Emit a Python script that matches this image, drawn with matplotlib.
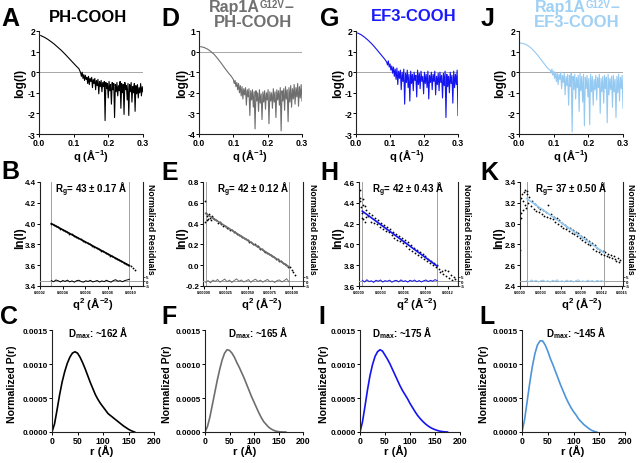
import numpy as np
import matplotlib
matplotlib.use("Agg")
import matplotlib.pyplot as plt

plt.rcParams['font.family'] = ['Liberation Sans', 'DejaVu Sans']
plt.rcParams['font.weight'] = 'bold'
plt.rcParams['axes.unicode_minus'] = False
plt.rcParams['mathtext.fontset'] = 'custom'
plt.rcParams['mathtext.rm'] = 'Liberation Sans:bold'
plt.rcParams['mathtext.bf'] = 'Liberation Sans:bold'
plt.rcParams['mathtext.it'] = 'Liberation Sans:bold'
plt.rcParams['mathtext.default'] = 'bf'

# ---------------- colours per construct ----------------
BLACK = '#000000'
GRAY = '#6e6e6e'
BLUE = '#1414f0'
LBLUE = '#94c9f2'
PR_LBLUE = '#4d94da'

# ---------------- log(I) vs q (A, D, G, J) ----------------
# smooth low-q part, then the noisy high-q part
a_q_lo = [0.005, 0.015, 0.025, 0.035, 0.045, 0.055, 0.065, 0.075, 0.085, 0.095, 0.105, 0.115]
a_log_lo = [1.78, 1.70, 1.60, 1.48, 1.35, 1.20, 1.05, 0.88, 0.70, 0.52, 0.34, 0.17]
a_log_hi = [-0.02, -0.20, 0.00, -0.30, -0.12, -0.40, -0.15, -0.35, -0.25, -0.55,
            -0.20, -0.60, -0.30, -0.45, -0.25, -0.75, -0.35, -0.55, -0.30, -0.85,
            -0.40, -0.65, -0.35, -1.05, -0.45, -0.70, -0.40, -0.95, -0.50, -0.70,
            -0.45, -2.35, -0.50, -0.80, -0.55, -1.25, -0.45, -0.90, -0.60, -1.55,
            -0.50, -0.85, -0.55, -2.20, -0.60, -0.95, -0.50, -1.15, -0.65, -0.90,
            -0.45, -1.75, -0.55, -1.00, -0.60, -2.05, -0.50, -0.85, -0.65, -1.35,
            -0.55, -2.10, -0.60, -0.95, -0.50, -1.45, -0.70, -1.00, -0.55, -1.90,
            -0.65, -1.05, -0.60, -1.25, -0.75, -1.00, -0.55, -1.15, -0.70, -0.95]
a_q_hi = np.linspace(0.12, 0.30, len(a_log_hi))

d_q_lo = [0.005, 0.015, 0.025, 0.035, 0.045, 0.055, 0.065, 0.075, 0.085, 0.095]
d_log_lo = [0.24, 0.20, 0.12, 0.00, -0.15, -0.35, -0.57, -0.80, -1.02, -1.22]
d_log_hi = [-1.35, -1.55, -1.40, -1.70, -1.50, -1.85, -1.55, -2.00, -1.65, -2.15,
            -1.70, -2.30, -1.80, -2.10, -1.75, -2.60, -1.85, -2.20, -1.80, -3.10,
            -1.90, -2.35, -1.85, -2.70, -1.95, -3.75, -1.90, -2.40, -2.00, -2.90,
            -1.85, -2.50, -2.05, -3.30, -1.95, -2.45, -1.90, -2.80, -2.00, -2.35,
            -1.85, -3.50, -1.95, -2.40, -2.00, -2.75, -1.80, -2.45, -1.95, -3.20,
            -1.85, -2.35, -1.90, -2.60, -1.75, -3.85, -1.90, -2.40, -1.80, -2.85,
            -1.70, -2.30, -1.85, -3.40, -1.75, -2.45, -1.65, -2.70, -1.80, -2.30,
            -1.60, -2.55, -1.75, -2.20, -1.55, -2.65, -1.70, -2.25, -1.60, -2.40]
d_q_hi = np.linspace(0.10, 0.30, len(d_log_hi))

g_q_lo = [0.005, 0.015, 0.025, 0.035, 0.045, 0.055, 0.065, 0.075, 0.085]
g_log_lo = [1.90, 1.82, 1.70, 1.56, 1.40, 1.22, 1.02, 0.82, 0.62]
g_log_hi = [0.50, 0.35, 0.55, 0.25, 0.40, 0.10, 0.30, -0.05, 0.25, -0.20,
            0.15, -0.35, 0.20, -0.60, 0.05, -0.30, 0.10, -0.85, 0.00, -0.45,
            0.15, -1.55, -0.05, -0.50, 0.10, -0.75, -0.10, -1.40, 0.05, -0.55,
            -0.10, -0.90, 0.00, -0.40, -0.15, -1.20, 0.10, -0.60, -0.05, -0.80,
            0.05, -0.45, -0.20, -1.05, 0.00, -0.55, -0.10, -0.75, 0.05, -1.30,
            -0.15, -0.50, 0.00, -0.85, -0.10, -0.45, 0.05, -1.10, -0.20, -0.60,
            -0.05, -0.90, 0.00, -0.50, -0.15, -1.25, -0.05, -0.65, 0.05, -2.20,
            -0.10, -0.70, -0.20, -1.00, 0.00, -0.55, -0.15, -1.50, 0.05, -0.75,
            -0.10, -0.60, 0.10, -2.10]
g_q_hi = np.linspace(0.09, 0.30, len(g_log_hi))

j_q_lo = [0.003, 0.015, 0.025, 0.035, 0.045, 0.055, 0.065, 0.075, 0.085]
j_log_lo = [1.42, 1.38, 1.30, 1.17, 1.00, 0.80, 0.58, 0.36, 0.15]
j_log_hi = [0.10, -0.05, 0.15, -0.15, 0.05, -0.30, 0.00, -0.45, -0.05, -0.60,
            -0.10, -0.35, 0.00, -0.80, -0.15, -0.50, -0.05, -1.10, -0.20, -0.65,
            -0.10, -1.60, -0.15, -0.70, -0.05, -2.90, -0.20, -0.85, -0.10, -1.30,
            -0.25, -0.75, -0.15, -1.90, -0.05, -0.90, -0.20, -1.45, -0.10, -2.60,
            -0.25, -0.80, -0.15, -1.20, -0.30, -2.55, -0.10, -0.95, -0.20, -1.60,
            -0.35, -0.85, -0.15, -1.35, -0.25, -0.75, -0.10, -2.00, -0.30, -0.95,
            -0.20, -1.50, -0.15, -0.80, -0.25, -2.45, -0.10, -1.10, -0.30, -0.85,
            -0.20, -1.70, -0.15, -0.95, -0.35, -2.20, -0.20, -1.00, -0.10, -1.40,
            -0.25, -0.80, -0.15, -1.75]
j_q_hi = np.linspace(0.09, 0.30, len(j_log_hi))

# ---------------- Guinier plots (B, E, H, K) ----------------
b_q2 = [0.00030, 0.00032, 0.00034, 0.00036, 0.00038, 0.00040, 0.00042, 0.00044, 0.00046, 0.00048,
        0.00050, 0.00052, 0.00054, 0.00056, 0.00058, 0.00060, 0.00062, 0.00064, 0.00066, 0.00068,
        0.00070, 0.00072, 0.00074, 0.00076, 0.00078, 0.00080, 0.00082, 0.00084, 0.00086, 0.00088,
        0.00090, 0.00092, 0.00094, 0.00096, 0.00098, 0.00100, 0.00102, 0.00104]
b_ln = [4.000, 3.990, 3.975, 3.966, 3.951, 3.943, 3.928, 3.920, 3.904, 3.897,
        3.881, 3.873, 3.857, 3.850, 3.834, 3.826, 3.811, 3.803, 3.787, 3.779,
        3.764, 3.756, 3.740, 3.733, 3.717, 3.709, 3.693, 3.686, 3.670, 3.662,
        3.647, 3.639, 3.623, 3.615, 3.600, 3.588, 3.570, 3.558]
b_fit_q2 = [0.00030, 0.00099]
b_fit_ln = [4.000, 3.596]
b_resid = [0.5, -0.8, 1.2, 0.3, -1.0, 0.6, -0.4, 1.0, -0.9, 0.2, -1.3, 0.4, 0.9, -0.6, -1.2, 0.3, -0.5, 0.8,
           -1.0, -0.3, 0.6, -1.1, 0.2, -0.7, 0.9, -0.4, -1.2, 0.5, 1.5, -0.2, 0.4, -0.8, 0.6, 1.2, 2.0]

e_q2 = [0.00001, 0.00001, 0.00002, 0.00003, 0.00004, 0.00005, 0.00006, 0.00007, 0.00008, 0.00009,
        0.00010, 0.00012, 0.00014, 0.00016, 0.00018, 0.00020, 0.00022, 0.00024, 0.00026, 0.00028,
        0.00030, 0.00032, 0.00034, 0.00036, 0.00038, 0.00040, 0.00042, 0.00044, 0.00046, 0.00048,
        0.00050, 0.00052, 0.00054, 0.00056, 0.00058, 0.00060, 0.00062, 0.00064, 0.00066, 0.00068,
        0.00070, 0.00072, 0.00074, 0.00076, 0.00078, 0.00080, 0.00082, 0.00084, 0.00086, 0.00088,
        0.00090, 0.00092, 0.00094, 0.00096, 0.00098, 0.00100, 0.00102, 0.00104]
e_ln = [0.62, 0.42, 0.50, 0.43, 0.47, 0.44, 0.49, 0.45, 0.43, 0.47,
        0.45, 0.44, 0.43, 0.41, 0.42, 0.40, 0.38, 0.38, 0.36, 0.36,
        0.34, 0.34, 0.32, 0.32, 0.30, 0.29, 0.28, 0.27, 0.26, 0.25,
        0.24, 0.22, 0.22, 0.20, 0.20, 0.18, 0.18, 0.16, 0.16, 0.14,
        0.13, 0.12, 0.11, 0.10, 0.09, 0.08, 0.06, 0.06, 0.04, 0.04,
        0.02, 0.01, 0.00, -0.02, -0.02, -0.05, -0.07, -0.09]
e_fit_q2 = [0.00002, 0.00097]
e_fit_ln = [0.497, -0.015]
e_resid = [-1.5, 0.5, -2.0, 1.0, -0.5, 1.8, -1.2, 0.3, 2.2, -0.8, 1.0, -1.6, 0.6, 2.4, -0.4, 1.2, -1.0, 0.2,
           1.6, -1.4, 0.8, 2.0, -0.6, 1.0, -1.2, 0.4, 1.8, -0.8, 0.2, -1.6, 0.6, 1.2, -1.0, 0.4, 2.6, -0.8]

h_q2 = [0.00001, 0.00002, 0.00003, 0.00004, 0.00005, 0.00006, 0.00008, 0.00010,
        0.00002, 0.00004, 0.00006, 0.00008, 0.00010, 0.00012, 0.00014, 0.00016, 0.00018, 0.00020,
        0.00022, 0.00024, 0.00026, 0.00028, 0.00030, 0.00032, 0.00034, 0.00036, 0.00038, 0.00040,
        0.00042, 0.00044, 0.00046, 0.00048, 0.00050, 0.00052, 0.00054, 0.00056, 0.00058, 0.00060,
        0.00062, 0.00064, 0.00066, 0.00068, 0.00070, 0.00072, 0.00074, 0.00076, 0.00078, 0.00080,
        0.00082, 0.00084, 0.00086, 0.00088, 0.00090, 0.00092, 0.00094, 0.00096, 0.00098, 0.00100,
        0.00102, 0.00104, 0.00106, 0.00108, 0.00110, 0.00112, 0.00114, 0.00116, 0.00118, 0.00120,
        0.00122, 0.00124, 0.00126, 0.00128, 0.00130]
h_ln = [4.52, 4.42, 4.36, 4.30, 4.24, 4.44, 4.37, 4.26,
        4.45, 4.25, 4.38, 4.22, 4.33, 4.27, 4.30, 4.22, 4.28, 4.21,
        4.25, 4.20, 4.23, 4.17, 4.21, 4.15, 4.19, 4.13, 4.17, 4.12,
        4.15, 4.09, 4.12, 4.06, 4.10, 4.04, 4.08, 4.03, 4.06, 4.01,
        4.04, 3.98, 4.02, 3.96, 3.99, 3.94, 3.97, 3.92, 3.95, 3.90,
        3.93, 3.88, 3.91, 3.86, 3.89, 3.84, 3.86, 3.82, 3.84, 3.80,
        3.82, 3.78, 3.80, 3.76, 3.73, 3.74, 3.72, 3.75, 3.70, 3.74,
        3.68, 3.71, 3.66, 3.69, 3.67]
h_fit_q2 = [0.000045, 0.00106]
h_fit_ln = [4.32, 3.79]
h_resid = [0.8, -1.0, 1.4, -0.6, 0.3, -1.5, 0.9, -0.2, 1.2, -1.1, 0.5, -0.4, 1.0, -1.3, 0.2, 0.8, -0.9,
           1.3, -0.5, 0.4, -1.2, 0.9, -0.3, 1.1, -0.8, 0.6, -1.0, 0.3, 1.2, -0.6, 0.8, -0.2, 1.6, 0.4]

k_q2 = [0.000005, 0.00001, 0.00002, 0.00003, 0.00005, 0.00007, 0.00009, 0.00011,
        0.00002, 0.00004, 0.00006, 0.00008, 0.00010, 0.00012, 0.00014, 0.00016, 0.00018, 0.00020,
        0.00022, 0.00024, 0.00026, 0.00028, 0.00030, 0.00032, 0.00034, 0.00036, 0.00038, 0.00040,
        0.00042, 0.00044, 0.00046, 0.00048, 0.00050, 0.00052, 0.00054, 0.00056, 0.00058, 0.00060,
        0.00062, 0.00064, 0.00066, 0.00068, 0.00070, 0.00072, 0.00074, 0.00076, 0.00078, 0.00080,
        0.00082, 0.00084, 0.00086, 0.00088, 0.00090, 0.00092, 0.00094, 0.00096, 0.00098, 0.00100,
        0.00102, 0.00104, 0.00106, 0.00108, 0.00110, 0.00112, 0.00114, 0.00116, 0.00118, 0.00120,
        0.00122, 0.00124, 0.00126, 0.00128, 0.00130, 0.00132, 0.00134, 0.00136, 0.00138, 0.00140,
        0.00142, 0.00144, 0.00146, 0.00148]
k_ln = [2.75, 3.25, 3.05, 3.28, 3.13, 3.32, 3.15, 3.31,
        3.10, 3.22, 3.30, 3.18, 3.28, 3.20, 3.26, 3.17, 3.22, 3.14,
        3.19, 3.12, 3.16, 3.11, 3.14, 3.09, 3.13, 3.07, 3.11, 3.06,
        3.18, 3.05, 3.09, 3.04, 3.06, 3.02, 3.05, 3.00, 3.03, 2.98,
        3.01, 2.96, 2.99, 2.95, 2.97, 2.93, 2.96, 2.91, 2.94, 2.90,
        2.92, 2.88, 2.91, 2.86, 2.88, 2.84, 2.87, 2.82, 2.85, 2.80,
        2.83, 2.79, 2.81, 2.76, 2.79, 2.74, 2.77, 2.73, 2.75, 2.71,
        2.74, 2.70, 2.73, 2.69, 2.71, 2.68, 2.70, 2.67, 2.69, 2.66,
        2.64, 2.67, 2.63, 2.65]
k_fit_q2 = [0.00010, 0.00124]
k_fit_ln = [3.24, 2.72]
k_resid = [0.6, -0.9, 1.2, -0.4, 0.8, -1.1, 0.3, 1.0, -0.7, 0.5, -1.3, 0.9, -0.2, 1.4, -0.8, 0.4, -1.0,
           1.1, -0.3, 0.7, -1.2, 0.5, 1.3, -0.6, 0.2, -0.9, 1.0, -0.4, 0.6, -1.1, 0.8, -0.3, 0.5, -0.8]

# ---------------- P(r) (C, F, I, L) ----------------
c_r = [0, 5, 10, 15, 20, 25, 30, 35, 40, 45, 50, 55, 60, 65, 70, 75, 80, 85, 90, 95, 100,
       105, 110, 115, 120, 125, 130, 135, 140, 145, 150, 155, 160, 162]
c_pr = [0.0, 0.12, 0.33, 0.55, 0.74, 0.89, 1.01, 1.10, 1.16, 1.18, 1.16, 1.10, 1.02, 0.93, 0.83, 0.73,
        0.64, 0.55, 0.48, 0.42, 0.37, 0.32, 0.27, 0.24, 0.21, 0.18, 0.15, 0.12, 0.09, 0.065, 0.04,
        0.02, 0.005, 0.0]
f_r = [0, 5, 10, 15, 20, 25, 30, 35, 40, 45, 50, 55, 60, 65, 70, 75, 80, 85, 90, 95, 100,
       105, 110, 115, 120, 125, 130, 135, 140, 145, 150, 155, 160, 165]
f_pr = [0.0, 0.08, 0.22, 0.40, 0.58, 0.76, 0.92, 1.06, 1.16, 1.21, 1.20, 1.16, 1.10, 1.02, 0.95, 0.87,
        0.79, 0.70, 0.61, 0.52, 0.44, 0.36, 0.28, 0.21, 0.15, 0.11, 0.07, 0.045, 0.025, 0.012, 0.005,
        0.002, 0.0005, 0.0]
i_r = [0, 5, 10, 15, 20, 25, 30, 35, 40, 45, 50, 55, 60, 65, 70, 75, 80, 85, 90, 95, 100,
       105, 110, 115, 120, 125, 130, 135, 140, 145, 150, 155, 160, 165, 170, 175]
i_pr = [0.0, 0.15, 0.38, 0.62, 0.83, 0.99, 1.11, 1.18, 1.21, 1.19, 1.13, 1.07, 1.00, 0.92, 0.84, 0.76,
        0.68, 0.61, 0.55, 0.49, 0.42, 0.36, 0.30, 0.245, 0.20, 0.16, 0.125, 0.095, 0.07, 0.05, 0.035,
        0.022, 0.012, 0.006, 0.002, 0.0]
l_r = [0, 5, 10, 15, 20, 25, 30, 35, 40, 45, 50, 55, 60, 65, 70, 75, 80, 85, 90, 95, 100,
       105, 110, 115, 120, 125, 130, 135, 140, 145]
l_pr = [0.0, 0.18, 0.45, 0.72, 0.96, 1.15, 1.28, 1.34, 1.34, 1.28, 1.19, 1.08, 0.99, 0.89, 0.79, 0.69,
        0.60, 0.51, 0.43, 0.36, 0.30, 0.25, 0.19, 0.15, 0.11, 0.08, 0.05, 0.025, 0.01, 0.0]

rg_labels = ['43 ± 0.17', '42 ± 0.12', '42 ± 0.43', '37 ± 0.50']
dmax_labels = ['162', '165', '175', '145']

fig = plt.figure(figsize=(6.4, 4.64), dpi=100)
W, H = 640.0, 464.0


def px_axes(l, r, t, b):
    return fig.add_axes([l / W, 1 - b / H, (r - l) / W, (b - t) / H])


def ftext(x, y, s, **kw):
    return fig.text(x / W, 1 - y / H, s, **kw)


def style(ax, lsize=6.5, xsize=6.5):
    for s in ['top', 'right']:
        ax.spines[s].set_visible(False)
    for s in ['left', 'bottom']:
        ax.spines[s].set_linewidth(0.8)
        ax.spines[s].set_color('#222222')
    ax.tick_params(direction='out', length=2, width=0.7, pad=0.8)
    ax.tick_params(axis='y', labelsize=lsize)
    ax.tick_params(axis='x', labelsize=xsize)


# ---- row 1: log(I) ----
row1 = [(39, 143, a_q_lo, a_log_lo, a_q_hi, a_log_hi, BLACK, (-3, 2)),
        (199, 302, d_q_lo, d_log_lo, d_q_hi, d_log_hi, GRAY, (-4, 1)),
        (356, 458, g_q_lo, g_log_lo, g_q_hi, g_log_hi, BLUE, (-3, 2)),
        (519, 623, j_q_lo, j_log_lo, j_q_hi, j_log_hi, LBLUE, (-3, 2))]
for l, r, qlo, ylo, qhi, yhi, col, yl in row1:
    ax = px_axes(l, r, 32, 135)
    ax.axhline(0, color='#999999', lw=0.6)
    ax.plot(list(qlo) + list(qhi), list(ylo) + list(yhi), color=col, lw=0.8)
    ax.set_xlim(0, 0.3)
    ax.set_ylim(*yl)
    ax.set_xticks([0.0, 0.1, 0.2, 0.3])
    ax.set_xticklabels(['0.0', '0.1', '0.2', '0.3'])
    ax.set_yticks(range(yl[0], yl[1] + 1))
    style(ax, lsize=6.2, xsize=6.3)

# ---- row 2: Guinier ----
row2 = [(40, 143, b_q2, b_ln, b_fit_q2, b_fit_ln, b_resid, BLACK, BLACK, (0.0002, 0.00111), (3.4, 4.4),
         [0.0002, 0.0004, 0.0006, 0.0008, 0.0010], '%.4f', [3.4, 3.6, 3.8, 4.0, 4.2, 4.4]),
        (203, 303, e_q2, e_ln, e_fit_q2, e_fit_ln, e_resid, GRAY, GRAY, (-0.00001, 0.00113), (-0.2, 0.8),
         [0.0, 0.00025, 0.0005, 0.00075, 0.0010], '%.5f', [-0.2, 0.0, 0.2, 0.4, 0.6, 0.8]),
        (359, 458, h_q2, h_ln, h_fit_q2, h_fit_ln, h_resid, BLUE, BLUE, (0.0, 0.00134), (3.6, 4.6),
         [0.0, 0.0003, 0.0006, 0.0009, 0.0012], '%.4f', [3.6, 3.8, 4.0, 4.2, 4.4, 4.6]),
        (520, 623, k_q2, k_ln, k_fit_q2, k_fit_ln, k_resid, LBLUE, LBLUE, (0.0, 0.00152), (2.4, 3.4),
         [0.0, 0.0003, 0.0006, 0.0009, 0.0012, 0.0015], '%.4f', [2.4, 2.6, 2.8, 3.0, 3.2, 3.4])]
for i, (l, r, q2, ln, fq, fl, res, fcol, rcol, xl, yl, xt, xf, yt) in enumerate(row2):
    ax = px_axes(l, r, 183, 287)
    ax.axvline(fq[0], color='#a0a0a0', lw=0.7)
    ax.axvline(fq[1], color='#a0a0a0', lw=0.7)
    ax.plot(q2, ln, 'o', color='black', ms=1.3, mew=0)
    ax.plot(fq, fl, color=fcol, lw=1.2)
    ax.set_xlim(*xl)
    ax.set_ylim(*yl)
    ax.set_xticks(xt)
    ax.set_xticklabels([xf % v for v in xt])
    ax.set_yticks(yt)
    ax.set_yticklabels(['%.1f' % v for v in yt])
    style(ax, lsize=5.8, xsize=2.8)
    ax.text(0.5, 1.02, 'R$_g$= ' + rg_labels[i] + ' Å', transform=ax.transAxes,
            ha='center', va='top', fontsize=7)
    tw = ax.twinx()
    tw.set_ylim(-5.5, 110)
    tw.axhline(0, color='#a0a0a0', lw=0.7)
    tw.plot(np.linspace(fq[0], fq[1], len(res)), res, color=rcol, lw=0.7)
    tw.set_yticks([-5, 0, 5])
    tw.set_yticklabels(['-5', '0', '5'])
    for s in ['top', 'left', 'bottom']:
        tw.spines[s].set_visible(False)
    tw.spines['right'].set_linewidth(0.8)
    tw.spines['right'].set_color('#222222')
    tw.tick_params(direction='out', length=1.5, width=0.5, pad=0.5, labelsize=3.2)

# ---- row 3: P(r) ----
row3 = [(52, 154, c_r, c_pr, BLACK, 0.45), (205, 303, f_r, f_pr, GRAY, 0.54),
        (360, 460, i_r, i_pr, BLUE, 0.42), (522, 625, l_r, l_pr, PR_LBLUE, 0.53)]
for i, (l, r, rr, pr, col, tx) in enumerate(row3):
    ax = px_axes(l, r, 331, 433)
    ax.plot(rr, np.array(pr) * 1e-3, color=col, lw=1.2)
    ax.set_xlim(0, 200)
    ax.set_ylim(0, 0.0015)
    ax.set_xticks([0, 50, 100, 150, 200])
    ax.set_yticks([0, 0.0005, 0.0010, 0.0015])
    ax.set_yticklabels(['0.0000', '0.0005', '0.0010', '0.0015'])
    style(ax, lsize=5.8, xsize=6.3)
    ax.text(tx, 0.98, 'D$_{max}$: ~' + dmax_labels[i] + ' Å', transform=ax.transAxes,
            ha='center', va='center', fontsize=7)

# ---- titles ----
ftext(88, 22, 'PH-COOH', ha='center', va='baseline', fontsize=12, color=BLACK)
ftext(414, 21, 'EF3-COOH', ha='center', va='baseline', fontsize=12, color='#1a1aff')
ftext(253, 27, 'PH-COOH', ha='center', va='baseline', fontsize=12, color='#707070')
ftext(577, 27, 'EF3-COOH', ha='center', va='baseline', fontsize=12, color='#9fd0f5')

# "Rap1A" + raised "G12V" + dash, laid out piece by piece
rend = fig.canvas.get_renderer()
for cx, col in [(251, '#707070'), (577, '#9fd0f5')]:
    pieces = [('Rap1A', 11.5, 12), ('G12V', 7, 7.5), ('–', 11.5, 12)]
    objs = [ftext(0, y, s, ha='left', va='baseline', fontsize=fs, color=col) for s, fs, y in pieces]
    widths = [o.get_window_extent(rend).width for o in objs]
    x = cx - sum(widths) / 2
    for o, w, (s, fs, y) in zip(objs, widths, pieces):
        o.set_x(x / W)
        x += w

# ---- panel letters ----
letters = [('A', 1, 26), ('D', 161, 26), ('G', 320, 26), ('J', 481, 26),
           ('B', 1, 179), ('E', 161, 180), ('H', 320, 180), ('K', 480, 180),
           ('C', 0, 324), ('F', 161, 324), ('I', 318, 324), ('L', 479, 324)]
for s, x, y in letters:
    ftext(x, y, s, ha='left', va='baseline', fontsize=18)

# ---- axis labels ----
for x in [20, 182, 338, 500]:
    ftext(x, 83, 'log(I)', ha='center', va='center', rotation=90, fontsize=8.5)
for x in [91, 250, 407, 571]:
    ftext(x, 156, 'q (Å$^{-1}$)', ha='center', va='center', fontsize=8)
for x in [20, 182, 338, 499]:
    ftext(x, 238, 'ln(I)', ha='center', va='center', rotation=90, fontsize=8.5)
for x in [93, 262, 417, 582]:
    ftext(x, 304, 'q$^{2}$ (Å$^{-2}$)', ha='center', va='center', fontsize=8.2)
for x in [151, 312, 467, 631]:
    ftext(x, 229, 'Normalized Residuals', ha='center', va='center', rotation=-90, fontsize=6.2)
for x in [12, 167, 324, 484]:
    ftext(x, 384, 'Normalized P(r)', ha='center', va='center', rotation=90, fontsize=7.6)
for x in [102, 245, 396, 573]:
    ftext(x, 451, 'r (Å)', ha='center', va='center', fontsize=8.2)

fig.savefig('out.png', dpi=100)
